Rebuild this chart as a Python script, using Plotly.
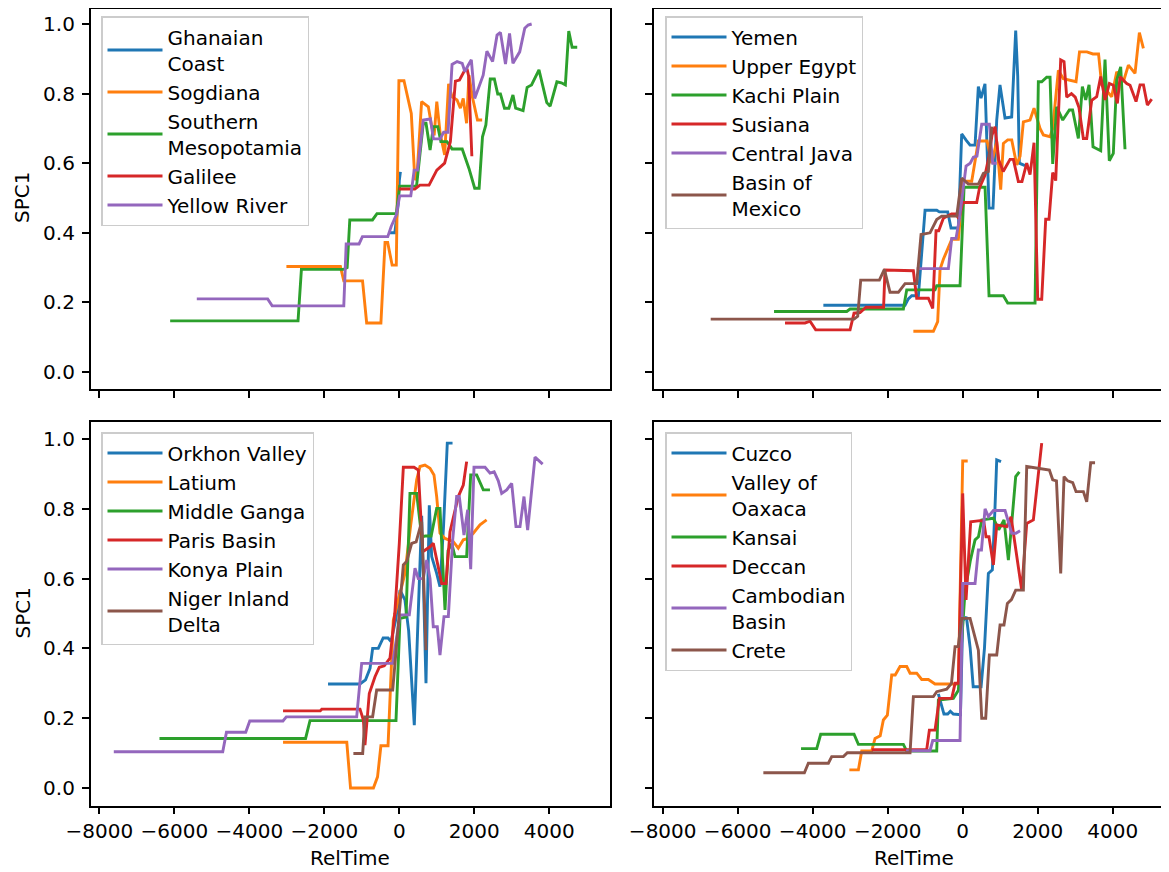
import plotly.graph_objects as go

# ---------------- data (RelTime, SPC1) ----------------
GHANA = [(-250,0.40),(-120,0.40),(-20,0.49),(0,0.55),(30,0.575)]
SOGD = [(-3010,0.303),(-1570,0.303),(-1480,0.262),(-980,0.262),(-870,0.141),(-490,0.141),(-380,0.372),(-310,0.372),(-190,0.307),(-80,0.307),(-10,0.837),(125,0.837),(320,0.743),(415,0.552),(470,0.56),(595,0.777),(775,0.762),(865,0.705),(930,0.68),(1000,0.777),(1090,0.686),(1210,0.624),(1315,0.828),(1405,0.791),(1540,0.782),(1630,0.758),(1705,0.786),(1795,0.715),(1858,0.853),(1948,0.791),(2085,0.724),(2210,0.724)]
MESO = [(-6110,0.147),(-2700,0.147),(-2610,0.295),(-1480,0.295),(-1390,0.30),(-1320,0.437),(-715,0.437),(-595,0.455),(-80,0.455),(10,0.534),(460,0.534),(640,0.715),(713,0.715),(821,0.638),(911,0.705),(1028,0.705),(1109,0.662),(1272,0.662),(1407,0.641),(1678,0.641),(1858,0.585),(2011,0.528),(2129,0.528),(2219,0.676),(2309,0.71),(2426,0.842),(2535,0.842),(2625,0.799),(2697,0.799),(2805,0.758),(2922,0.758),(3031,0.796),(3103,0.758),(3301,0.751),(3409,0.818),(3527,0.825),(3725,0.868),(3933,0.774),(4023,0.764),(4203,0.834),(4321,0.831),(4429,0.825),(4519,0.98),(4609,0.933),(4745,0.933)]
GALI = [(-20,0.526),(415,0.526),(550,0.537),(794,0.537),(1001,0.58),(1209,0.60),(1362,0.662),(1497,0.836),(1606,0.839),(1750,0.868),(1813,0.868),(1850,0.85),(1935,0.62)]
YELL = [(-5400,0.21),(-3510,0.21),(-3390,0.19),(-1480,0.19),(-1416,0.368),(-1073,0.368),(-983,0.389),(-307,0.389),(-216,0.418),(-81,0.451),(9,0.506),(307,0.506),(397,0.58),(487,0.58),(640,0.724),(758,0.727),(830,0.727),(911,0.67),(1091,0.67),(1182,0.689),(1300,0.689),(1407,0.884),(1542,0.892),(1678,0.887),(1750,0.863),(1830,0.88),(1921,0.897),(2011,0.786),(2129,0.82),(2237,0.853),(2336,0.922),(2489,0.892),(2607,0.968),(2697,0.976),(2832,0.885),(2940,0.973),(3031,0.887),(3211,0.92),(3346,0.988),(3436,0.997),(3530,1.0)]

YEMEN = [(-3716,0.192),(-1538,0.192),(-1450,0.21),(-1360,0.219),(-1182,0.219),(-1004,0.465),(-693,0.465),(-622,0.46),(-400,0.46),(-311,0.414),(-116,0.414),(-27,0.684),(100,0.665),(196,0.652),(329,0.652),(417,0.82),(488,0.787),(594,0.828),(702,0.471),(808,0.471),(907,0.724),(994,0.825),(1128,0.73),(1306,0.733),(1413,0.981),(1467,0.85),(1510,0.60),(1662,0.593)]
EGYPT = [(-1316,0.117),(-782,0.117),(-667,0.145),(-604,0.295),(-516,0.324),(-293,0.381),(-116,0.381),(-60,0.46),(18,0.548),(240,0.548),(418,0.664),(551,0.664),(650,0.664),(773,0.60),(907,0.662),(1013,0.524),(1084,0.657),(1200,0.667),(1307,0.667),(1440,0.595),(1530,0.62),(1617,0.719),(1795,0.724),(1902,0.758),(2062,0.70),(2151,0.681),(2329,0.676),(2400,0.70),(2551,0.867),(2684,0.843),(2862,0.839),(3022,0.834),(3115,0.92),(3311,0.92),(3471,0.914),(3622,0.914),(3706,0.825),(3973,0.791),(4107,0.863),(4284,0.834),(4418,0.882),(4595,0.858),(4711,0.975),(4818,0.93)]
KACHI = [(-5031,0.174),(-3093,0.174),(-3004,0.181),(-1582,0.181),(-1493,0.236),(-738,0.236),(-693,0.248),(-71,0.248),(36,0.531),(596,0.531),(702,0.219),(1084,0.219),(1200,0.198),(1929,0.198),(2017,0.834),(2107,0.834),(2240,0.847),(2329,0.847),(2400,0.598),(2507,0.762),(2667,0.724),(2844,0.753),(2930,0.753),(3084,0.671),(3191,0.82),(3280,0.782),(3369,0.825),(3475,0.647),(3680,0.636),(3795,0.898),(3909,0.607),(4016,0.628),(4107,0.839),(4213,0.877),(4328,0.64)]
SUSIANA = [(-4738,0.141),(-4204,0.141),(-4071,0.146),(-3920,0.121),(-3004,0.121),(-2898,0.169),(-2738,0.171),(-2578,0.186),(-2110,0.186),(-2072,0.293),(-1316,0.291),(-1227,0.212),(-916,0.212),(-800,0.183),(-711,0.406),(-640,0.406),(-516,0.442),(-300,0.454),(-178,0.454),(-100,0.44),(0,0.487),(373,0.487),(450,0.53),(596,0.566),(700,0.62),(780,0.68),(862,0.705),(960,0.61),(1080,0.576),(1262,0.611),(1350,0.611),(1484,0.547),(1580,0.547),(1650,0.58),(1707,0.60),(1796,0.567),(1902,0.659),(2000,0.209),(2107,0.209),(2213,0.439),(2302,0.439),(2400,0.573),(2480,0.55),(2613,0.897),(2702,0.892),(2773,0.79),(2900,0.80),(3000,0.79),(3100,0.76),(3217,0.671),(3307,0.671),(3440,0.781),(3573,0.791),(3680,0.849),(3796,0.782),(3911,0.829),(4018,0.824),(4124,0.772),(4196,0.848),(4373,0.829),(4462,0.824),(4622,0.777),(4729,0.825),(4820,0.825),(4924,0.767),(5040,0.784)]
CJAVA = [(-1227,0.297),(-382,0.297),(-293,0.384),(-178,0.384),(-89,0.44),(0,0.52),(89,0.592),(200,0.60),(284,0.617),(380,0.62),(507,0.712),(711,0.712),(800,0.60),(907,0.60)]
MEXICO = [(-6720,0.152),(-2898,0.152),(-2800,0.16),(-2720,0.264),(-2222,0.264),(-2089,0.295),(-1938,0.229),(-1716,0.229),(-1538,0.254),(-1227,0.254),(-1111,0.395),(-871,0.40),(-693,0.438),(-560,0.448),(-160,0.448),(-27,0.557),(151,0.54),(418,0.54),(551,0.571),(684,0.576),(773,0.705)]

ORKHON = [(-1900,0.298),(-1050,0.298),(-900,0.31),(-780,0.343),(-710,0.40),(-560,0.40),(-430,0.43),(-300,0.43),(-220,0.42),(-100,0.48),(20,0.567),(150,0.539),(250,0.45),(400,0.18),(597,0.78),(712,0.30),(800,0.81),(864,0.663),(997,0.615),(1085,0.577),(1180,0.75),(1280,0.988),(1420,0.988)]
LATIUM = [(-3100,0.131),(-1400,0.131),(-1300,0.0),(-690,0.0),(-580,0.032),(-490,0.121),(-300,0.121),(-230,0.30),(-160,0.48),(0,0.55),(152,0.615),(300,0.75),(464,0.883),(552,0.921),(684,0.925),(819,0.916),(925,0.897),(997,0.835),(1085,0.73),(1219,0.715),(1440,0.706),(1573,0.687),(1707,0.711),(1840,0.715),(1973,0.73),(2152,0.754),(2329,0.768)]
GANGA = [(-6395,0.142),(-2499,0.142),(-2381,0.193),(-88,0.193),(19,0.486),(180,0.49),(285,0.844),(463,0.844),(597,0.72),(700,0.722),(850,0.722),(997,0.801),(1085,0.801),(1219,0.51),(1300,0.68),(1400,0.70),(1485,0.663),(1796,0.663),(1904,0.897),(2064,0.897),(2240,0.854),(2418,0.854)]
PARIS = [(-3100,0.221),(-2110,0.221),(-2066,0.226),(-1048,0.226),(-957,0.195),(-915,0.123),(-800,0.271),(-648,0.319),(-533,0.346),(-400,0.35),(-248,0.372),(-120,0.5),(0,0.7),(108,0.919),(392,0.919),(507,0.911),(624,0.677),(819,0.691),(907,0.701),(1020,0.64),(1131,0.586),(1245,0.586),(1352,0.734),(1573,0.835),(1707,0.868),(1796,0.935)]
KONYA = [(-7613,0.104),(-4708,0.104),(-4609,0.16),(-4095,0.16),(-3987,0.192),(-3103,0.192),(-3013,0.204),(-1136,0.204),(-1003,0.357),(-176,0.357),(19,0.496),(267,0.496),(419,0.63),(507,0.60),(640,0.60),(731,0.653),(820,0.60),(907,0.462),(1014,0.462),(1085,0.381),(1192,0.491),(1308,0.491),(1424,0.711),(1530,0.835),(1600,0.835),(1725,0.725),(1824,0.797),(1904,0.627),(1992,0.919),(2287,0.919),(2419,0.902),(2530,0.906),(2640,0.88),(2731,0.844),(2864,0.854),(2997,0.873),(3112,0.749),(3219,0.749),(3325,0.835),(3423,0.739),(3619,0.948),(3823,0.928)]
NIGER = [(-1224,0.099),(-976,0.099),(-915,0.204),(-711,0.204),(-603,0.281),(-176,0.281),(-40,0.45),(108,0.639),(200,0.65),(330,0.701),(450,0.705),(597,0.763),(650,0.60),(712,0.395)]

CUZCO = [(-650,0.27),(-560,0.23),(-500,0.212),(-400,0.212),(-330,0.22),(-250,0.212),(-150,0.21),(-60,0.21),(0,0.48),(100,0.49),(200,0.40),(280,0.29),(490,0.29),(580,0.40),(684,0.615),(791,0.625),(860,0.80),(907,0.94),(1022,0.935)]
OAXACA = [(-3022,0.052),(-2782,0.052),(-2693,0.106),(-2427,0.106),(-2338,0.142),(-2200,0.15),(-2116,0.195),(-2009,0.209),(-1893,0.324),(-1800,0.324),(-1671,0.348),(-1493,0.348),(-1404,0.329),(-1227,0.329),(-1093,0.311),(-916,0.311),(-738,0.298),(-116,0.298),(0,0.937),(133,0.937)]
KANSAI = [(-4311,0.113),(-3893,0.113),(-3787,0.154),(-2898,0.154),(-2782,0.125),(-1582,0.125),(-1493,0.106),(-693,0.106),(-649,0.252),(-249,0.257),(-116,0.28),(0,0.45),(62,0.563),(200,0.65),(329,0.711),(420,0.72),(507,0.768),(818,0.773),(960,0.74),(1102,0.768),(1218,0.653),(1300,0.75),(1413,0.892),(1511,0.906)]
DECCAN = [(-2427,0.11),(-960,0.11),(-889,0.166),(-738,0.166),(-622,0.257),(-293,0.257),(-204,0.30),(-116,0.30),(0,0.844),(89,0.539),(213,0.763),(462,0.766),(560,0.765),(622,0.72),(700,0.72),(818,0.639),(907,0.754),(1173,0.749),(1289,0.777),(1420,0.68),(1573,0.567),(1707,0.758),(1884,0.768),(2107,0.988)]
CAMBO = [(-1511,0.107),(-871,0.107),(-800,0.136),(-71,0.136),(0,0.586),(329,0.586),(418,0.682),(500,0.682),(596,0.80),(684,0.778),(818,0.795),(1129,0.795),(1307,0.73),(1420,0.73),(1529,0.737)]
CRETE = [(-5316,0.044),(-4222,0.044),(-4116,0.071),(-3582,0.071),(-3493,0.09),(-3182,0.09),(-3076,0.101),(-1404,0.101),(-1316,0.262),(-782,0.262),(-693,0.276),(-427,0.283),(-300,0.30),(-204,0.405),(-120,0.405),(-27,0.486),(196,0.486),(300,0.44),(418,0.395),(507,0.20),(613,0.20),(711,0.381),(907,0.381),(996,0.467),(1100,0.467),(1191,0.529),(1300,0.54),(1413,0.567),(1618,0.567),(1707,0.921),(2018,0.916),(2311,0.911),(2400,0.883),(2500,0.88),(2613,0.615),(2702,0.892),(2800,0.88),(2933,0.875),(3022,0.849),(3218,0.849),(3307,0.82),(3413,0.932),(3529,0.932)]

PANELS = [
    [("Ghanaian<br>Coast", GHANA), ("Sogdiana", SOGD), ("Southern<br>Mesopotamia", MESO), ("Galilee", GALI), ("Yellow River", YELL)],
    [("Yemen", YEMEN), ("Upper Egypt", EGYPT), ("Kachi Plain", KACHI), ("Susiana", SUSIANA), ("Central Java", CJAVA), ("Basin of<br>Mexico", MEXICO)],
    [("Orkhon Valley", ORKHON), ("Latium", LATIUM), ("Middle Ganga", GANGA), ("Paris Basin", PARIS), ("Konya Plain", KONYA), ("Niger Inland<br>Delta", NIGER)],
    [("Cuzco", CUZCO), ("Valley of<br>Oaxaca", OAXACA), ("Kansai", KANSAI), ("Deccan", DECCAN), ("Cambodian<br>Basin", CAMBO), ("Crete", CRETE)],
]
COLORS = ["#1f77b4", "#ff7f0e", "#2ca02c", "#d62728", "#9467bd", "#8c564b"]
X_TICKS = [-8000, -6000, -4000, -2000, 0, 2000, 4000]
Y_TICKS = [0.0, 0.2, 0.4, 0.6, 0.8, 1.0]

# ---------------- layout geometry ----------------
# The page places the figure 8 px from the top-left corner, so the figure is
# sized 8 px smaller and every position below is given relative to that offset.
OFF = 8
W, H = 1169 - OFF, 872 - OFF
FONT = "DejaVu Sans"


def px(x):
    return (x - OFF) / W


def py(y):
    return 1 - (y - OFF) / H


LEFT_DOM = [px(90.7), px(610)]
RIGHT_DOM = [px(654), 1.0]
TOP_DOM = [py(389.4), py(8.8)]
BOT_DOM = [py(805.5), py(421.5)]
LEFT_RANGE = [-8229, 5619]
RIGHT_RANGE = [-8232, 5501]
TOP_YRANGE = [-0.05, 1.0437]
BOT_YRANGE = [-0.05, 1.05]

fig = go.Figure()

specs = [
    (LEFT_DOM, TOP_DOM, LEFT_RANGE, TOP_YRANGE, False, True, 101, 16),
    (RIGHT_DOM, TOP_DOM, RIGHT_RANGE, TOP_YRANGE, False, False, 665, 16),
    (LEFT_DOM, BOT_DOM, LEFT_RANGE, BOT_YRANGE, True, True, 101, 432),
    (RIGHT_DOM, BOT_DOM, RIGHT_RANGE, BOT_YRANGE, True, False, 665, 432),
]

layout = dict(
    width=W, height=H, margin=dict(l=0, r=0, t=0, b=0, pad=0),
    paper_bgcolor="white", plot_bgcolor="white",
    font=dict(family=FONT, size=20, color="black"),
    showlegend=True,
)
for i, (xd, yd, xr, yr, showx, showy, lx, ly) in enumerate(specs):
    n = "" if i == 0 else str(i + 1)
    layout["xaxis" + n] = dict(
        domain=xd, range=xr, anchor="y" + n, tickmode="array", tickvals=X_TICKS,
        showticklabels=showx, ticks="outside", ticklen=7, tickwidth=1.6, tickcolor="black",
        showline=True, linecolor="black", linewidth=1.6, mirror=True,
        showgrid=False, zeroline=False, automargin=False,
        tickfont=dict(family=FONT, size=20, color="black"),
    )
    layout["yaxis" + n] = dict(
        domain=yd, range=yr, anchor="x" + n, tickmode="array", tickvals=Y_TICKS,
        ticktext=["%.1f" % v for v in Y_TICKS],
        showticklabels=showy, ticks="outside", ticklen=7, tickwidth=1.6, tickcolor="black",
        showline=True, linecolor="black", linewidth=1.6, mirror=(i % 2 == 0),
        showgrid=False, zeroline=False, automargin=False, ticklabelstandoff=3,
        tickfont=dict(family=FONT, size=20, color="black"),
    )
    layout["legend" + n] = dict(
        x=px(lx), y=py(ly), xanchor="left", yanchor="top",
        bgcolor="rgba(255,255,255,0.8)", bordercolor="#cccccc", borderwidth=1.5,
        font=dict(family=FONT, size=20, color="black"), tracegroupgap=0,
        itemwidth=55,
    )
    for j, (name, pts) in enumerate(PANELS[i]):
        xs = [p[0] for p in pts]
        ys = [p[1] for p in pts]
        fig.add_trace(go.Scatter(
            x=xs, y=ys, mode="lines", name=name,
            line=dict(color=COLORS[j], width=2.9),
            xaxis="x" + n, yaxis="y" + n, legend="legend" + n,
        ))

ann = []
for yc in [(6.6 + 389.4) / 2, (421.5 + 805.5) / 2]:
    ann.append(dict(text="SPC1", x=px(22), y=py(yc), xref="paper", yref="paper",
                    showarrow=False, textangle=-90, xanchor="center", yanchor="middle",
                    font=dict(family=FONT, size=20, color="black")))
for xc in [350, 913.7]:
    ann.append(dict(text="RelTime", x=px(xc), y=py(858), xref="paper", yref="paper",
                    showarrow=False, xanchor="center", yanchor="middle",
                    font=dict(family=FONT, size=20, color="black")))
layout["annotations"] = ann

fig.update_layout(**layout)
fig.write_html("out.html")
